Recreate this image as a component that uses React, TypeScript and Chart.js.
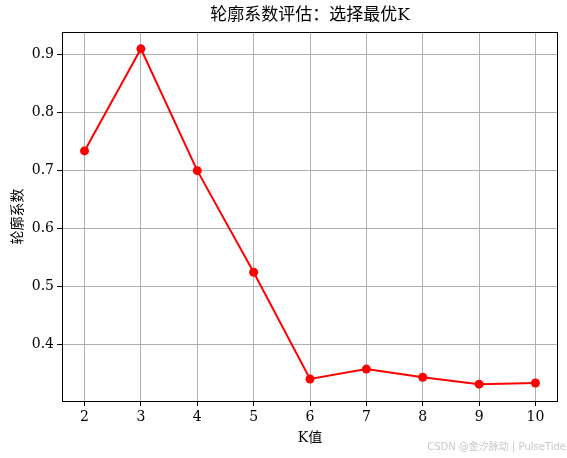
import React, { useEffect, useRef } from "react";
import { Chart, registerables } from "chart.js";

Chart.register(...registerables);

const kValues = [2, 3, 4, 5, 6, 7, 8, 9, 10];
const scores = [0.733, 0.909, 0.699, 0.524, 0.340, 0.357, 0.343, 0.331, 0.333];
const xTicks = [2, 3, 4, 5, 6, 7, 8, 9, 10];
const yTicks = [0.4, 0.5, 0.6, 0.7, 0.8, 0.9];

const titleText = "轮廓系数评估：选择最优K";
const xTitle = "K值";
const yTitle = "轮廓系数";
const watermark = "CSDN @金汐脉动 | PulseTide";

const SERIF = '"DejaVu Serif", "Noto Sans CJK SC", serif';

const decorPlugin = {
  id: "decor",
  afterDraw(chart: any) {
    const { ctx, chartArea } = chart;
    const { left, right, top, bottom } = chartArea;
    ctx.save();
    ctx.strokeStyle = "#000";
    ctx.lineWidth = 1;
    ctx.strokeRect(Math.round(left) + 0.5, Math.round(top) + 0.5, Math.round(right - left) - 1, Math.round(bottom - top));
    ctx.fillStyle = "#000";
    ctx.textAlign = "center";
    ctx.textBaseline = "middle";
    ctx.font = `17px ${SERIF}`;
    ctx.fillText(titleText, (left + right) / 2, 16);
    ctx.font = `14px ${SERIF}`;
    ctx.fillText(xTitle, (left + right) / 2, 438);
    ctx.save();
    ctx.translate(18, (top + bottom) / 2);
    ctx.rotate(-Math.PI / 2);
    ctx.fillText(yTitle, 0, 0);
    ctx.restore();
    ctx.font = '10px "DejaVu Sans", "Noto Sans CJK SC", sans-serif';
    ctx.fillStyle = "#c8c8c8";
    ctx.textAlign = "right";
    ctx.fillText(watermark, 566, 447);
    ctx.restore();
  },
};

export default function App() {
  const ref = useRef<HTMLCanvasElement>(null);
  useEffect(() => {
    if (!ref.current) return;
    const chart = new Chart(ref.current, {
      type: "line",
      data: {
        datasets: [
          {
            data: kValues.map((k, i) => ({ x: k, y: scores[i] })),
            borderColor: "#ff0000",
            backgroundColor: "#ff0000",
            borderWidth: 2,
            pointRadius: 4.5,
            pointBorderWidth: 0,
            pointBackgroundColor: "#ff0000",
            tension: 0,
          },
        ],
      },
      options: {
        animation: false,
        responsive: false,
        layout: { padding: { left: 0, right: 9, top: 32, bottom: 0 } },
        plugins: { legend: { display: false }, tooltip: { enabled: false }, title: { display: false } },
        scales: {
          x: {
            type: "linear",
            min: 1.6,
            max: 10.4,
            afterBuildTicks: (s: any) => {
              s.ticks = xTicks.map((v) => ({ value: v }));
            },
            afterFit: (s: any) => {
              s.height = 57;
            },
            grid: { color: "#b0b0b0", lineWidth: 1, tickLength: 5, tickColor: "#000", drawTicks: true },
            border: { display: false },
            ticks: { color: "#000", font: { family: SERIF, size: 14 }, padding: 3, maxRotation: 0, callback: (v: any) => String(v) },
          },
          y: {
            type: "linear",
            min: 0.302,
            max: 0.938,
            afterBuildTicks: (s: any) => {
              s.ticks = yTicks.map((v) => ({ value: v }));
            },
            afterFit: (s: any) => {
              s.width = 62;
            },
            grid: { color: "#b0b0b0", lineWidth: 1, tickLength: 5, tickColor: "#000" },
            border: { display: false },
            ticks: { color: "#000", font: { family: SERIF, size: 14 }, padding: 3, callback: (v: any) => Number(v).toFixed(1) },
          },
        },
      },
      plugins: [decorPlugin],
    });
    return () => chart.destroy();
  }, []);
  return (
    <div style={{ position: "fixed", left: 0, top: 0, width: 567, height: 458, background: "#fff" }}>
      <canvas ref={ref} width={567} height={458} style={{ width: 567, height: 458 }} />
    </div>
  );
}
